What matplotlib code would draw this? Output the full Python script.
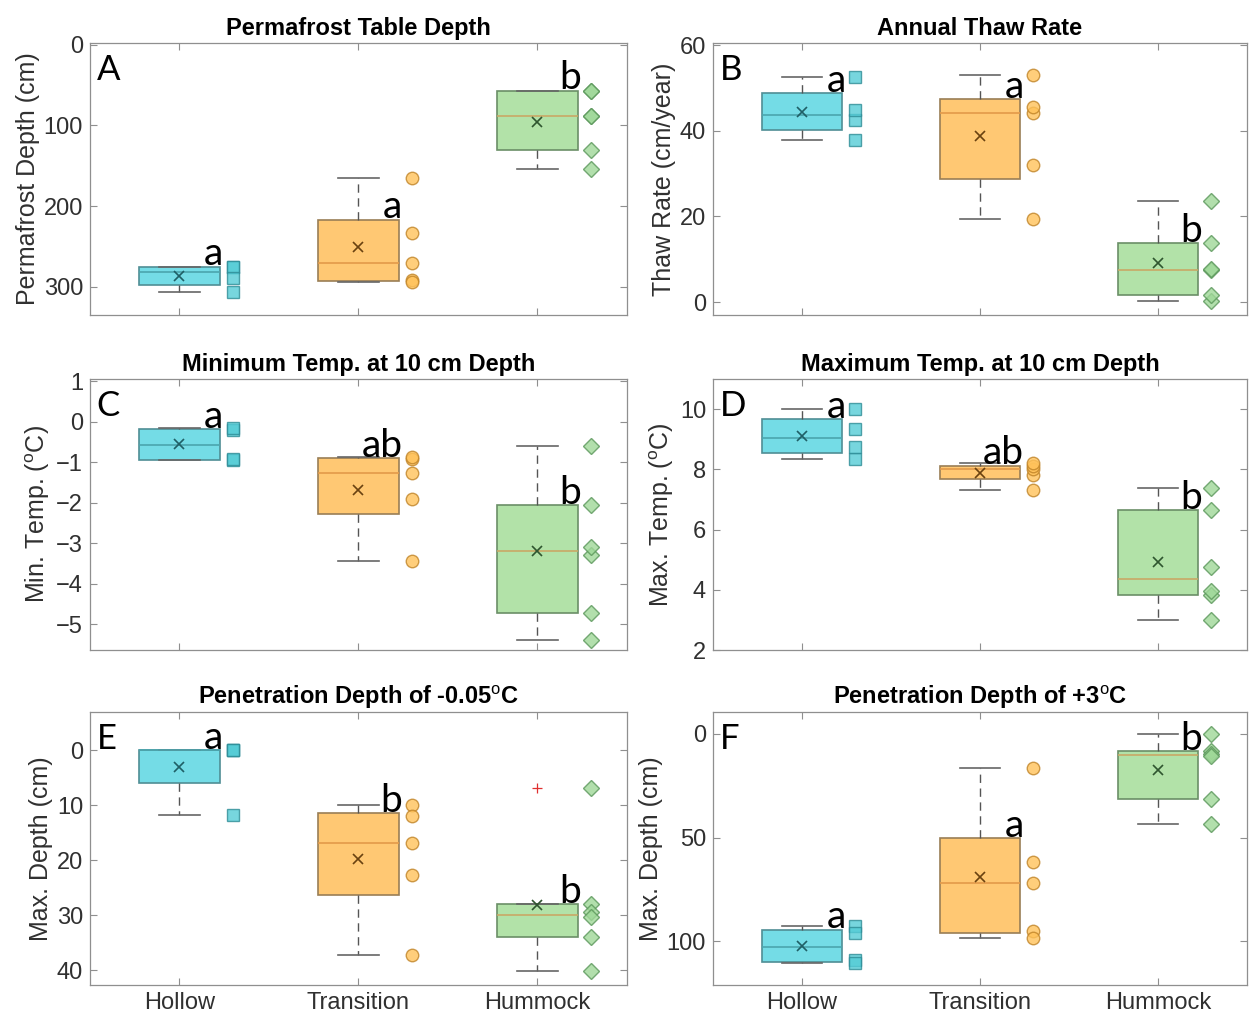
import numpy as np
import matplotlib
matplotlib.use("Agg")
import matplotlib.pyplot as plt

plt.rcParams['font.family'] = ['Liberation Sans', 'DejaVu Sans']
plt.rcParams['mathtext.fontset'] = 'custom'
plt.rcParams['mathtext.rm'] = 'Liberation Sans'
plt.rcParams['mathtext.it'] = 'Liberation Sans:italic'
plt.rcParams['mathtext.bf'] = 'Liberation Sans:bold'

categories = ["Hollow", "Transition", "Hummock"]

# Panel A: permafrost table depth (cm)
A_hollow = [275, 275, 289, 306]
A_transition = [165, 234, 271, 292, 294]
A_hummock = [57, 57, 89, 89, 130, 154]
A_letters = ["a", "a", "b"]

# Panel B: annual thaw rate (cm/year)
B_hollow = [37.9, 42.5, 44.9, 52.6]
B_transition = [19.4, 32.0, 44.2, 45.5, 53.0]
B_hummock = [0.2, 1.6, 7.4, 7.8, 13.7, 23.6]
B_letters = ["a", "a", "b"]

# Panel C: minimum temperature at 10 cm (degC)
C_hollow = [-0.95, -0.93, -0.20, -0.17]
C_transition = [-3.44, -1.90, -1.26, -0.92, -0.87]
C_hummock = [-5.38, -4.72, -3.30, -3.10, -2.06, -0.60]
C_letters = ["a", "ab", "b"]

# Panel D: maximum temperature at 10 cm (degC)
D_hollow = [8.33, 8.75, 9.35, 10.0]
D_transition = [7.3, 7.8, 8.0, 8.1, 8.2]
D_hummock = [2.99, 3.81, 3.97, 4.74, 6.64, 7.38]
D_letters = ["a", "ab", "b"]

# Panel E: penetration depth of -0.05 degC (cm)
E_hollow = [0.0, 0.0, 0.0, 11.8]
E_transition = [9.9, 12.0, 16.9, 22.6, 37.2]
E_hummock = [6.9, 28.0, 29.5, 30.4, 34.0, 40.2]
E_letters = ["a", "b", "b"]

# Panel F: penetration depth of +3 degC (cm)
F_hollow = [92.7, 96.0, 109.0, 110.5]
F_transition = [16.6, 61.6, 72.1, 95.2, 98.4]
F_hummock = [0.0, 8.5, 9.5, 10.5, 31.5, 43.5]
F_letters = ["a", "a", "b"]

fill_colors = ["#74DCE6", "#FFC873", "#B2E2A8"]
edge_colors = ["#4F8E95", "#9A7E55", "#6B8F67"]
median_colors = ["#4BA5AE", "#E39A4A", "#C9A865"]
mean_colors = ["#1F5F66", "#6A4210", "#2F552F"]
pt_fill = ["#55CCD6", "#FFC25A", "#9FD898"]
pt_edge = ["#2E8C96", "#C08428", "#5A965A"]
pt_marker = ["s", "o", "D"]


def matlab_prctile(x, p):
    x = np.sort(np.asarray(x, float))
    n = len(x)
    pct = 100.0 * (np.arange(1, n + 1) - 0.5) / n
    return float(np.interp(p, pct, x))


def box_stats(x):
    x = np.sort(np.asarray(x, float))
    q1 = matlab_prctile(x, 25)
    q3 = matlab_prctile(x, 75)
    med = matlab_prctile(x, 50)
    iqr = q3 - q1
    lo_f, hi_f = q1 - 1.5 * iqr, q3 + 1.5 * iqr
    inside = x[(x >= lo_f) & (x <= hi_f)]
    fl = x[(x < lo_f) | (x > hi_f)]
    return dict(med=med, q1=q1, q3=q3, whislo=inside.min(), whishi=inside.max(),
                fliers=fl, mean=x.mean())


panels = [
    dict(data=[A_hollow, A_transition, A_hummock], letters=A_letters, tag="A",
         title="Permafrost Table Depth", ylabel="Permafrost Depth (cm)",
         ylim=(335, -2), yticks=[0, 100, 200, 300], inv=True),
    dict(data=[B_hollow, B_transition, B_hummock], letters=B_letters, tag="B",
         title="Annual Thaw Rate", ylabel="Thaw Rate (cm/year)",
         ylim=(-3, 60.5), yticks=[0, 20, 40, 60], inv=False),
    dict(data=[C_hollow, C_transition, C_hummock], letters=C_letters, tag="C",
         title="Minimum Temp. at 10 cm Depth", ylabel="Min. Temp. ($^{\\mathrm{o}}$C)",
         ylim=(-5.63, 1.05), yticks=[-5, -4, -3, -2, -1, 0, 1], inv=False),
    dict(data=[D_hollow, D_transition, D_hummock], letters=D_letters, tag="D",
         title="Maximum Temp. at 10 cm Depth", ylabel="Max. Temp. ($^{\\mathrm{o}}$C)",
         ylim=(2, 11), yticks=[2, 4, 6, 8, 10], inv=False),
    dict(data=[E_hollow, E_transition, E_hummock], letters=E_letters, tag="E",
         title="Penetration Depth of -0.05$^{\\mathrm{o}}$C", ylabel="Max. Depth (cm)",
         ylim=(42.7, -7), yticks=[0, 10, 20, 30, 40], inv=True),
    dict(data=[F_hollow, F_transition, F_hummock], letters=F_letters, tag="F",
         title="Penetration Depth of +3$^{\\mathrm{o}}$C", ylabel="Max. Depth (cm)",
         ylim=(121, -10.5), yticks=[0, 50, 100], inv=True),
]

W, H = 1250, 1022
fig = plt.figure(figsize=(W / 100, H / 100), dpi=100)

col_x = [(90, 627), (713, 1247)]
row_y = [(43, 315), (379, 650), (712, 985)]

positions = [1, 2, 3]
bw = 0.45
spine_col = "#8f8f8f"
txt_col = "#303030"

for i, p in enumerate(panels):
    r, c = divmod(i, 2)
    x0, x1 = col_x[c]
    y0, y1 = row_y[r]
    ax = fig.add_axes([x0 / W, 1 - y1 / H, (x1 - x0) / W, (y1 - y0) / H])

    stats = [box_stats(d) for d in p["data"]]
    bp = ax.bxp(stats, positions=positions, widths=bw, patch_artist=True,
                showfliers=True, showmeans=False, capwidths=bw / 2,
                whiskerprops=dict(linestyle=(0, (6, 4)), color="#555555", lw=1.0),
                capprops=dict(color="#666666", lw=1.2),
                medianprops=dict(lw=1.2),
                flierprops=dict(marker="+", markeredgecolor="#E03030",
                                markersize=7, mew=0.9))
    for k in range(3):
        bp["boxes"][k].set_facecolor(fill_colors[k])
        bp["boxes"][k].set_edgecolor(edge_colors[k])
        bp["boxes"][k].set_linewidth(1.2)
        bp["medians"][k].set_color(median_colors[k])
        st = stats[k]
        ax.plot(positions[k], st["mean"], marker="x", ls="none", color=mean_colors[k],
                markersize=7, mew=1.2, zorder=4)
        vals = p["data"][k]
        ax.plot([positions[k] + 0.3] * len(vals), vals, ls="none", marker=pt_marker[k],
                markersize=9 if pt_marker[k] != "D" else 8,
                markerfacecolor=pt_fill[k], markeredgecolor=pt_edge[k], mew=1.0,
                alpha=0.8, zorder=3)
        top_val = st["q1"] if p["inv"] else st["q3"]
        ax.annotate(p["letters"][k], xy=(positions[k] + 0.245, top_val),
                    xytext=(0, 1), textcoords="offset points", ha="right",
                    va="baseline", fontsize=28, family="Lato", color="black",
                    zorder=5)

    ax.text(0.012, 0.96, p["tag"], transform=ax.transAxes, fontsize=25,
            family="Lato", ha="left", va="top", color="black")

    ax.set_xlim(0.5, 3.5)
    ax.set_ylim(*p["ylim"])
    ax.set_yticks(p["yticks"])
    ax.set_xticks(positions)
    if r == 2:
        ax.set_xticklabels(categories)
    else:
        ax.set_xticklabels([])
    ax.tick_params(direction="in", top=True, right=True, length=5, width=0.8,
                   color=spine_col, labelcolor=txt_col, labelsize=17, pad=5)
    for s in ax.spines.values():
        s.set_color(spine_col)
        s.set_linewidth(0.9)
    ax.set_title(p["title"], fontsize=17, fontweight="bold", color="black", pad=6)
    ax.set_ylabel(p["ylabel"], fontsize=18, color=txt_col, labelpad=3)

fig.savefig("out.png", dpi=100)
